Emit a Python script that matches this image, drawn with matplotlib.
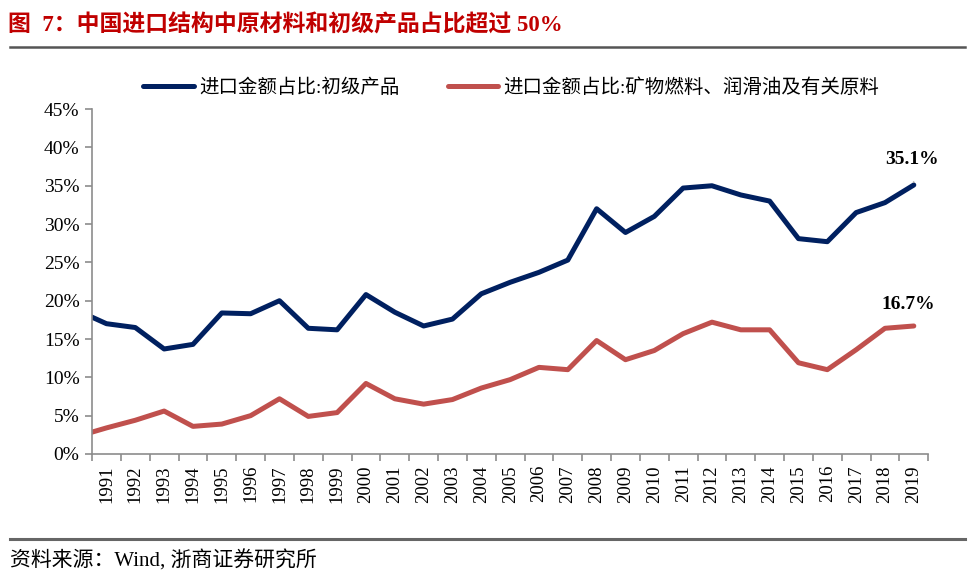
import matplotlib
matplotlib.use("Agg")
import matplotlib.pyplot as plt
from matplotlib.lines import Line2D

plt.rcParams['font.family'] = ['Noto Sans CJK SC', 'DejaVu Sans']

# year 1990 is only there so the lines run to the axis like the original
years = list(range(1990, 2020))
primary = [18.7, 17.0, 16.5, 13.7, 14.3, 18.4, 18.3, 20.0, 16.4, 16.2,
           20.8, 18.5, 16.7, 17.6, 20.9, 22.4, 23.7, 25.3, 32.0, 28.9,
           31.0, 34.7, 35.0, 33.8, 33.0, 28.1, 27.7, 31.5, 32.8, 35.1]
fuel = [2.3, 3.4, 4.4, 5.6, 3.6, 3.9, 5.0, 7.2, 4.9, 5.4,
        9.2, 7.2, 6.5, 7.1, 8.6, 9.7, 11.3, 11.0, 14.8, 12.3,
        13.5, 15.7, 17.2, 16.2, 16.2, 11.9, 11.0, 13.6, 16.4, 16.7]
label_years = [str(y) for y in years[1:]]

title = "图  7：中国进口结构中原材料和初级产品占比超过 50%"
legend_names = ["进口金额占比:初级产品", "进口金额占比:矿物燃料、润滑油及有关原料"]
source = "资料来源：Wind, 浙商证券研究所"

blue = "#002060"
red = "#C0504D"
grey = "#8C8C8C"
serif = "Liberation Serif"
mixed = [serif, 'Noto Sans CJK SC']

fig = plt.figure(figsize=(9.74, 5.82), dpi=100)
ax = fig.add_axes([0.0945, 0.22, 0.8585, 0.5925])

x = [y - 1991 for y in years]
ax.plot(x, primary, color=blue, lw=3.6, solid_joinstyle='round', solid_capstyle='round')
ax.plot(x, fuel, color=red, lw=3.6, solid_joinstyle='round', solid_capstyle='round')

ax.set_xlim(-0.5, len(label_years) - 0.5)
ax.set_ylim(0, 45)
ax.set_yticks(range(0, 46, 5))
ax.set_yticklabels([f"{v}%" for v in range(0, 46, 5)], fontfamily=serif, fontsize=14)
ax.set_xticks([i - 0.5 for i in range(len(label_years) + 1)])
ax.set_xticklabels([])
ax.set_xticks(range(len(label_years)), minor=True)
ax.set_xticklabels(label_years, minor=True, rotation=90, fontfamily=serif, fontsize=13.5)
ax.tick_params(axis='x', which='minor', length=0, pad=8)
ax.tick_params(axis='both', which='major', color=grey, length=5, width=1.2)
ax.tick_params(axis='y', pad=4)
for s in ['top', 'right']:
    ax.spines[s].set_visible(False)
for s in ['left', 'bottom']:
    ax.spines[s].set_color(grey)
    ax.spines[s].set_linewidth(1.2)

# end labels
ax.annotate(f"{primary[-1]:.1f}%", xy=(x[-1], primary[-1]), xytext=(x[-1] - 0.05, primary[-1] + 3.3),
            ha='center', va='center', fontfamily=serif, fontweight='bold', fontsize=14,
            arrowprops=dict(arrowstyle='-', color='#A0A0A0', lw=1.2, shrinkA=8, shrinkB=2))
ax.annotate(f"{fuel[-1]:.1f}%", xy=(x[-1], fuel[-1]), xytext=(x[-1] - 0.2, fuel[-1] + 2.8),
            ha='center', va='center', fontfamily=serif, fontweight='bold', fontsize=14)

handles = [Line2D([], [], color=blue, lw=3.6, solid_capstyle='round'),
           Line2D([], [], color=red, lw=3.6, solid_capstyle='round')]
fig.legend(handles, legend_names, loc='center', bbox_to_anchor=(0.525, 0.849), ncol=2,
           frameon=False, prop={'family': mixed, 'size': 14},
           handlelength=2.6, handletextpad=0.26, columnspacing=2.5)

fig.text(0.008, 0.957, title, color="#C00000", fontsize=16.5, fontweight='bold',
         fontfamily=mixed, va='center', ha='left')
fig.add_artist(Line2D([0.010, 0.991], [0.920, 0.920], color='#555555', lw=1.8, transform=fig.transFigure))
fig.add_artist(Line2D([0.010, 0.991], [0.074, 0.074], color='#666666', lw=2.2, transform=fig.transFigure))
fig.text(0.010, 0.036, source, color='black', fontsize=15, fontfamily=mixed, va='center', ha='left')

fig.savefig("out.png", dpi=100)
